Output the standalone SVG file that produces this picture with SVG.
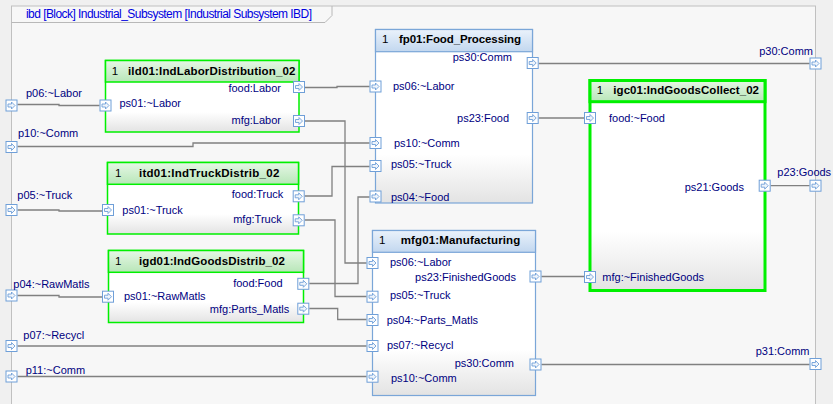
<svg xmlns="http://www.w3.org/2000/svg" xmlns:xlink="http://www.w3.org/1999/xlink" width="833" height="404" viewBox="0 0 833 404">
<style>
.lbl{font-family:"Liberation Sans",Arial,sans-serif;font-size:11px;fill:#00007f}
.end{text-anchor:end}
.ttl{font-family:"Liberation Sans",Arial,sans-serif;font-size:11.5px;font-weight:bold;fill:#000}
.num{font-family:"Liberation Sans",Arial,sans-serif;font-size:11.5px;fill:#000}
.tab{font-family:"Liberation Sans",Arial,sans-serif;font-size:12px;fill:#0000e0}
.gb{fill:url(#body);stroke:#00f000;stroke-width:1.5}
.gh{fill:url(#greenHead);stroke:#00f000;stroke-width:1.5}
.bb{fill:url(#body);stroke:#7aa6d8;stroke-width:1.2}
.bh{fill:url(#blueHead);stroke:#7aa6d8;stroke-width:1.2}
.wire{fill:none;stroke:#808080;stroke-width:1.3}
</style>
<defs>
<linearGradient id="greenHead" x1="0" y1="0" x2="0" y2="1"><stop offset="0" stop-color="#e6f7e6"/><stop offset="1" stop-color="#b8e6b8"/></linearGradient>
<linearGradient id="blueHead" x1="0" y1="0" x2="0" y2="1"><stop offset="0" stop-color="#eaf2fb"/><stop offset="1" stop-color="#c2d7ef"/></linearGradient>
<linearGradient id="body" x1="0" y1="0" x2="0" y2="1"><stop offset="0" stop-color="#ffffff"/><stop offset="0.72" stop-color="#ffffff"/><stop offset="1" stop-color="#e3e3e3"/></linearGradient>
<g id="port">
<rect x="0.5" y="0.5" width="11" height="11" fill="#ffffff" stroke="#6f9fd8" stroke-width="1"/>
<path d="M2.5,4.5 H6 V2.5 L9.5,6 L6,9.5 V7.5 H2.5 Z" fill="#eef4fb" stroke="#6f9fd8" stroke-width="0.9"/>
</g>
</defs>
<rect x="0" y="0" width="833" height="404" fill="#f0f0f0"/>
<g id="frame">
<rect x="11.5" y="6" width="804" height="420" fill="#f7f7f7" stroke="#c0c0c0" stroke-width="1"/>
<path d="M11.5,22.5 H325 L332,15.5 V6" fill="none" stroke="#b8b8b8" stroke-width="1"/>
<text class="tab" x="26" y="17.5" textLength="286">ibd [Block] Industrial_Subsystem [Industrial Subsystem IBD]</text>
</g>
<g id="connectors">
<path class="wire" d="M17.5,104.5 H59 V105.5 H99.5"/>
<path class="wire" d="M17.5,146.5 H193 V143 H369.5"/>
<path class="wire" d="M305,87.5 H337 V86.5 H369.5"/>
<path class="wire" d="M305,121 H345 V263 H366.5"/>
<path class="wire" d="M304.7,196 H332 V166.5 H369.5"/>
<path class="wire" d="M304.7,220 H335 V296.5 H366.5"/>
<path class="wire" d="M309.3,283.5 H358 V197 H369.5"/>
<path class="wire" d="M309.3,308.5 H337.7 V319.5 H366.5"/>
<path class="wire" d="M17.5,210 H59 V211 H102"/>
<path class="wire" d="M17.5,295.5 H59 V297 H102"/>
<path class="wire" d="M17.5,346 H366.5"/>
<path class="wire" d="M17.5,376.5 H366.5"/>
<path class="wire" d="M538.7,63.5 H809.5"/>
<path class="wire" d="M538.7,118 H584"/>
<path class="wire" d="M541.5,276.5 H584"/>
<path class="wire" d="M770.7,185.7 H809.5"/>
<path class="wire" d="M541.5,364.5 H809.5"/>
</g>
<g id="p06"><use xlink:href="#port" x="5.5" y="99.5"/><text class="lbl" x="26" y="97">p06:~Labor</text></g>
<g id="p10"><use xlink:href="#port" x="5.5" y="141"/><text class="lbl" x="18" y="136.5">p10:~Comm</text></g>
<g id="p05"><use xlink:href="#port" x="5.5" y="204"/><text class="lbl" x="17.3" y="199">p05:~Truck</text></g>
<g id="p04"><use xlink:href="#port" x="5.5" y="289.5"/><text class="lbl" x="13.3" y="288">p04:~RawMatls</text></g>
<g id="p07"><use xlink:href="#port" x="5.5" y="340"/><text class="lbl" x="23.3" y="339">p07:~Recycl</text></g>
<g id="p11"><use xlink:href="#port" x="5.5" y="370.5"/><text class="lbl" x="25.7" y="374">p11:~Comm</text></g>
<g id="p30"><use xlink:href="#port" x="809.5" y="57.5"/><text class="lbl end" x="813" y="55">p30:Comm</text></g>
<g id="p23"><use xlink:href="#port" x="809.5" y="179.7"/><text class="lbl" x="777.3" y="176">p23:Goods</text></g>
<g id="p31"><use xlink:href="#port" x="809.5" y="358"/><text class="lbl" x="755.7" y="355">p31:Comm</text></g>
<g id="ild01">
<rect class="gb" x="105.5" y="60.5" width="193.5" height="71.5"/>
<rect class="gh" x="105.5" y="60.5" width="193.5" height="21.5"/>
<text class="num" x="111.7" y="74.5">1</text>
<text class="ttl" x="128" y="74.5" textLength="167.5">ild01:IndLaborDistribution_02</text>
<use xlink:href="#port" x="99.5" y="99.5"/>
<use xlink:href="#port" x="293" y="81"/>
<use xlink:href="#port" x="293" y="115"/>
<text class="lbl" x="119.5" y="107.3">ps01:~Labor</text>
<text class="lbl end" x="281" y="92.3">food:Labor</text>
<text class="lbl end" x="281" y="124">mfg:Labor</text>
</g>
<g id="itd01">
<rect class="gb" x="107.5" y="162.5" width="191" height="71.5"/>
<rect class="gh" x="107.5" y="162.5" width="191" height="21.8"/>
<text class="num" x="115" y="176.7">1</text>
<text class="ttl" x="139" y="176.7" textLength="140.3">itd01:IndTruckDistrib_02</text>
<use xlink:href="#port" x="102" y="204"/>
<use xlink:href="#port" x="292.7" y="190.3"/>
<use xlink:href="#port" x="292.7" y="214.3"/>
<text class="lbl" x="122.3" y="214">ps01:~Truck</text>
<text class="lbl end" x="283.3" y="198">food:Truck</text>
<text class="lbl end" x="281.7" y="223">mfg:Truck</text>
</g>
<g id="igd01">
<rect class="gb" x="108.5" y="250.5" width="195" height="72"/>
<rect class="gh" x="108.5" y="250.5" width="195" height="21.8"/>
<text class="num" x="115" y="264.5">1</text>
<text class="ttl" x="139" y="264.5" textLength="146">igd01:IndGoodsDistrib_02</text>
<use xlink:href="#port" x="102" y="290.7"/>
<use xlink:href="#port" x="297.3" y="277.8"/>
<use xlink:href="#port" x="297.3" y="302.7"/>
<text class="lbl" x="124" y="300">ps01:~RawMatls</text>
<text class="lbl end" x="282.7" y="287">food:Food</text>
<text class="lbl end" x="289.3" y="313">mfg:Parts_Matls</text>
</g>
<g id="fp01">
<rect class="bb" x="375.5" y="29.5" width="157" height="173.5"/>
<rect class="bh" x="375.5" y="29.5" width="157" height="22.2"/>
<text class="num" x="382" y="43">1</text>
<text class="ttl" x="399" y="43" textLength="122">fp01:Food_Processing</text>
<use xlink:href="#port" x="369.5" y="80.5"/>
<use xlink:href="#port" x="369.5" y="137"/>
<use xlink:href="#port" x="369.5" y="160"/>
<use xlink:href="#port" x="369.5" y="190.5"/>
<use xlink:href="#port" x="526.7" y="57"/>
<use xlink:href="#port" x="526.7" y="112"/>
<text class="lbl end" x="512" y="61">ps30:Comm</text>
<text class="lbl" x="393" y="90">ps06:~Labor</text>
<text class="lbl end" x="509" y="122">ps23:Food</text>
<text class="lbl" x="394" y="147">ps10:~Comm</text>
<text class="lbl" x="391" y="168">ps05:~Truck</text>
<text class="lbl" x="391" y="201">ps04:~Food</text>
</g>
<g id="mfg01">
<rect class="bb" x="372.5" y="230.5" width="163" height="165"/>
<rect class="bh" x="372.5" y="230.5" width="163" height="21.8"/>
<text class="num" x="379" y="244">1</text>
<text class="ttl" x="400.7" y="244" textLength="119.6">mfg01:Manufacturing</text>
<use xlink:href="#port" x="366.5" y="257"/>
<use xlink:href="#port" x="366.5" y="290.7"/>
<use xlink:href="#port" x="366.5" y="314"/>
<use xlink:href="#port" x="366.5" y="340"/>
<use xlink:href="#port" x="366.5" y="370.7"/>
<use xlink:href="#port" x="529.5" y="270.5"/>
<use xlink:href="#port" x="529.5" y="358.5"/>
<text class="lbl" x="390" y="266">ps06:~Labor</text>
<text class="lbl end" x="516" y="281">ps23:FinishedGoods</text>
<text class="lbl" x="390" y="299">ps05:~Truck</text>
<text class="lbl" x="386.7" y="324">ps04:~Parts_Matls</text>
<text class="lbl" x="387" y="349">ps07:~Recycl</text>
<text class="lbl end" x="514" y="367">ps30:Comm</text>
<text class="lbl" x="391" y="382">ps10:~Comm</text>
</g>
<g id="igc01">
<rect class="gb" x="590" y="80.5" width="175" height="210" style="stroke-width:3"/>
<rect class="gh" x="590" y="80.5" width="175" height="21.2" style="stroke-width:3"/>
<text class="num" x="596.7" y="94">1</text>
<text class="ttl" x="613.3" y="94" textLength="145.7">igc01:IndGoodsCollect_02</text>
<use xlink:href="#port" x="584" y="112"/>
<use xlink:href="#port" x="584" y="271"/>
<use xlink:href="#port" x="758.7" y="179.7"/>
<text class="lbl" x="609" y="122">food:~Food</text>
<text class="lbl end" x="744" y="191">ps21:Goods</text>
<text class="lbl" x="602.3" y="281">mfg:~FinishedGoods</text>
</g>
</svg>
